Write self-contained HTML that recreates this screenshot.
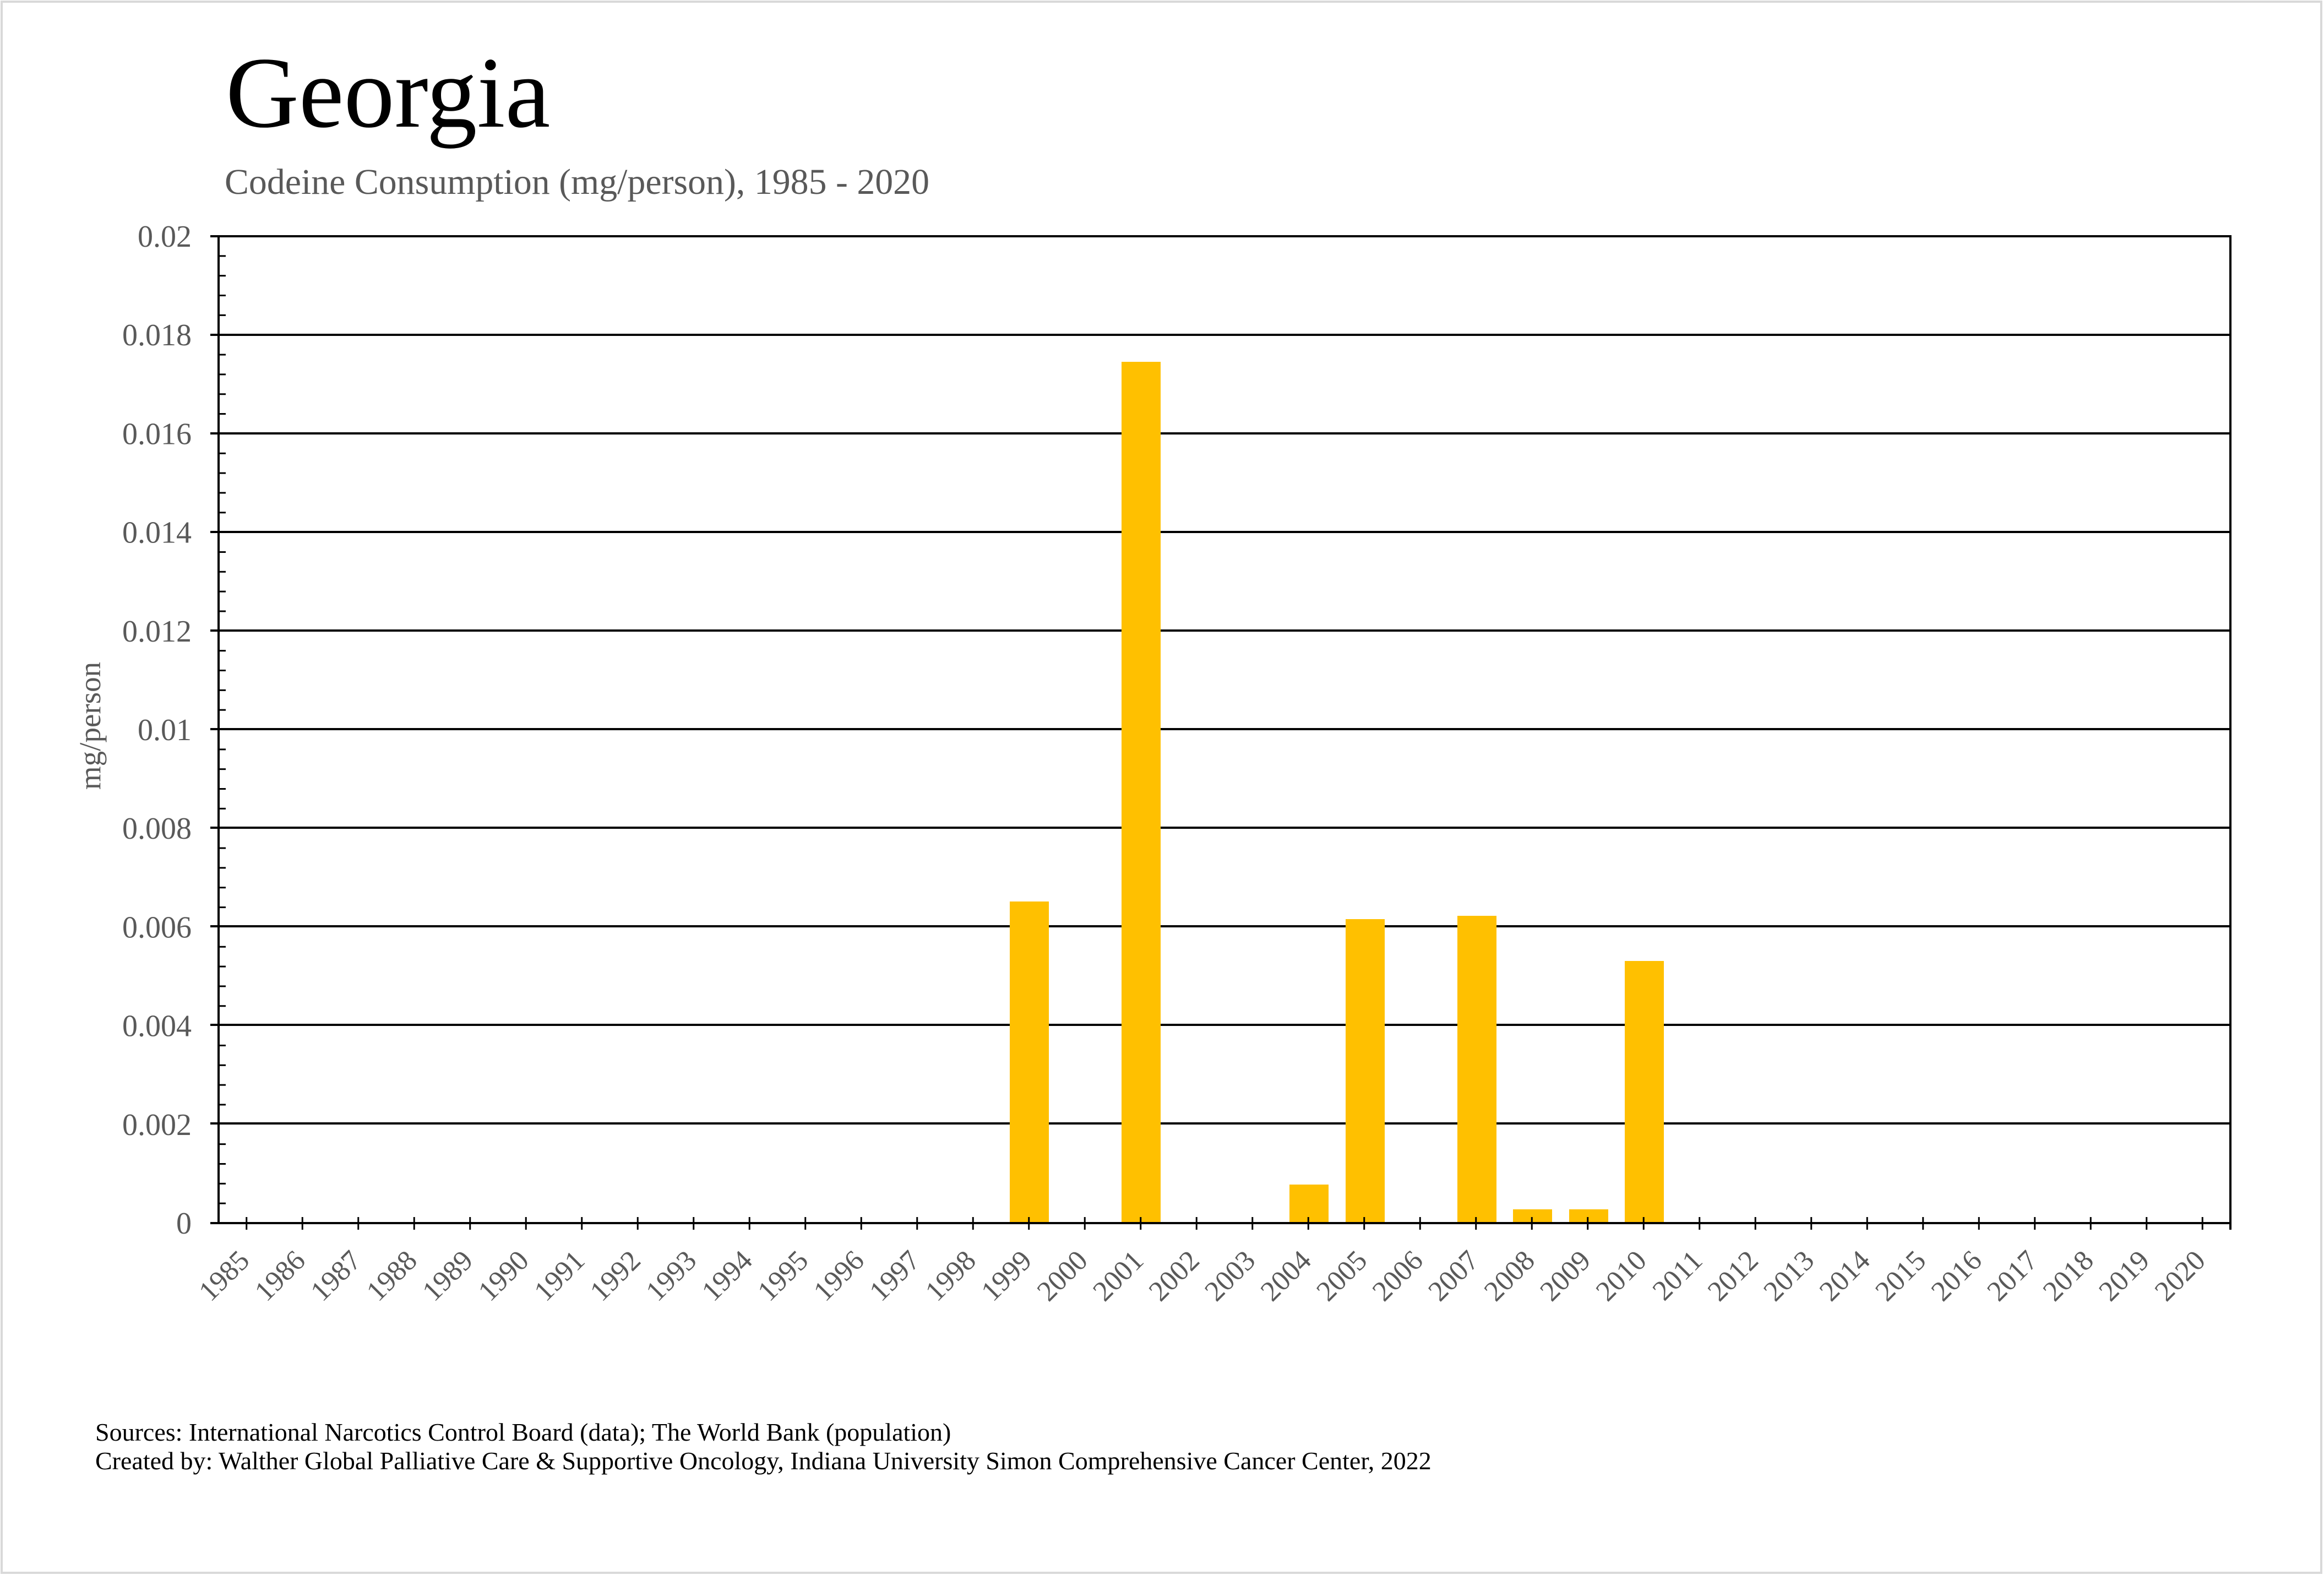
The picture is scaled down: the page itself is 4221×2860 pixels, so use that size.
<!DOCTYPE html>
<html><head><meta charset="utf-8"><style>
html,body{margin:0;padding:0;background:#fff;}
svg{display:block;}
text{font-family:"Liberation Serif","Times New Roman",serif;}
</style></head><body>
<svg width="4221" height="2860" viewBox="0 0 4221 2860" xmlns="http://www.w3.org/2000/svg">
<rect x="0" y="0" width="4221" height="2860" fill="#fff"/>
<rect x="3" y="3" width="4213" height="2853" fill="none" stroke="#d9d9d9" stroke-width="4"/>
<text x="410" y="230" font-size="184" fill="#000">Georgia</text>
<text x="408" y="352" font-size="66" fill="#595959" textLength="1280" lengthAdjust="spacingAndGlyphs">Codeine Consumption (mg/person), 1985 - 2020</text>
<g id="grid" stroke="#000" stroke-width="4">
<line x1="382" y1="429" x2="4051" y2="429"/>
<line x1="382" y1="608" x2="4051" y2="608"/>
<line x1="382" y1="787" x2="4051" y2="787"/>
<line x1="382" y1="966" x2="4051" y2="966"/>
<line x1="382" y1="1145" x2="4051" y2="1145"/>
<line x1="382" y1="1324" x2="4051" y2="1324"/>
<line x1="382" y1="1503" x2="4051" y2="1503"/>
<line x1="382" y1="1682" x2="4051" y2="1682"/>
<line x1="382" y1="1861" x2="4051" y2="1861"/>
<line x1="382" y1="2040" x2="4051" y2="2040"/>
</g>
<g fill="#ffc000">
<rect x="1834" y="1637" width="71" height="584"/>
<rect x="2037" y="657" width="71" height="1564"/>
<rect x="2342" y="2151" width="71" height="70"/>
<rect x="2444" y="1669" width="71" height="552"/>
<rect x="2647" y="1663" width="71" height="558"/>
<rect x="2748" y="2196" width="71" height="25"/>
<rect x="2850" y="2196" width="71" height="25"/>
<rect x="2951" y="1745" width="71" height="476"/>
</g>
<g stroke="#000" stroke-width="4">
<line x1="397" y1="427" x2="397" y2="2222"/>
<line x1="4051" y1="427" x2="4051" y2="2233"/>
<line x1="382" y1="2221" x2="4053" y2="2221"/>
</g>
<g stroke="#000" stroke-width="3" id="minor"></g>
<g stroke="#000" stroke-width="3" id="xt"></g>
<g font-size="56" fill="#595959" text-anchor="end" id="yl"></g>
<g font-size="52" fill="#595959" text-anchor="end" id="xl"></g>
<text transform="translate(182,1318) rotate(-90)" font-size="55" fill="#595959" text-anchor="middle">mg/person</text>
<text x="173" y="2616" font-size="46" fill="#000">Sources: International Narcotics Control Board (data); The World Bank (population)</text>
<text x="173" y="2668" font-size="46" fill="#000">Created by: Walther Global Palliative Care &amp; Supportive Oncology, Indiana University Simon Comprehensive Cancer Center, 2022</text>
<script>
(function(){
var ns="http://www.w3.org/2000/svg";
function el(p,t,a,txt){var e=document.createElementNS(ns,t);for(var k in a)e.setAttribute(k,a[k]);if(txt!=null)e.textContent=txt;document.getElementById(p).appendChild(e);}
var top=429,bot=2221,h=bot-top;
for(var i=0;i<=50;i++){var y=top+h*i/50; if(i%5!=0) el("minor","line",{x1:397,y1:y,x2:410,y2:y});}
var labs=["0.02","0.018","0.016","0.014","0.012","0.01","0.008","0.006","0.004","0.002","0"];
for(var i=0;i<=10;i++){var y=top+h*i/10; el("yl","text",{x:348,y:y+19},labs[i]);}
var step=(4051-397)/36;
for(var i=0;i<36;i++){var x=397+step*(i+0.5);
 el("xt","line",{x1:x,y1:2210,x2:x,y2:2233});
 el("xl","text",{transform:"translate("+(x+8)+",2292) rotate(-45)"},String(1985+i));}
})();
</script>
</svg>
</body></html>
